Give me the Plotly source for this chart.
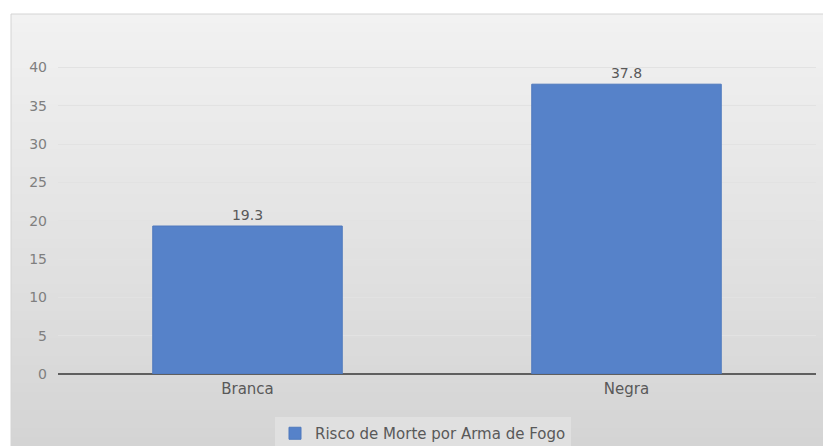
import plotly.graph_objects as go

categories = ["Branca", "Negra"]
values = [19.3, 37.8]
series_name = "Risco de Morte por Arma de Fogo"
tick_vals = [0, 5, 10, 15, 20, 25, 30, 35, 40]

W, H = 823, 446
ML, MR, MT, MB = 58, 7, 29, 72
PW, PH = W - ML - MR, H - MT - MB

def px_x(x):
    return (x - ML) / PW

def px_y(y):
    return (H - MB - y) / PH

fig = go.Figure()
fig.add_trace(go.Bar(
    x=categories, y=values, name=series_name,
    marker=dict(color="#5682c9", line=dict(color="#4f79bd", width=1)),
    text=[f"{v}" for v in values], textposition="outside",
    textfont=dict(color="#595959", size=14, family="DejaVu Sans"),
    cliponaxis=False,
))

# gradient background via bands
shapes = []
n = 48
top, bot = 14, H
c0, c1 = (242, 242, 242), (212, 212, 212)
for i in range(n):
    y0 = top + (bot - top) * i / n
    y1 = top + (bot - top) * (i + 1) / n
    t = (i + 0.5) / n
    c = tuple(int(round(c0[k] + (c1[k] - c0[k]) * t)) for k in range(3))
    shapes.append(dict(type="rect", xref="paper", yref="paper",
                       x0=px_x(11), x1=px_x(W), y0=px_y(y1 + 0.5), y1=px_y(y0),
                       fillcolor=f"rgb{c}", line=dict(width=0), layer="below"))
shapes.append(dict(type="rect", xref="paper", yref="paper",
                   x0=px_x(11), x1=px_x(W + 2), y0=px_y(H + 2), y1=px_y(14),
                   fillcolor="rgba(0,0,0,0)", line=dict(color="#d4d4d4", width=1), layer="below"))

fig.update_layout(
    width=W, height=H,
    margin=dict(l=ML, r=MR, t=MT, b=MB, autoexpand=False),
    paper_bgcolor="white", plot_bgcolor="rgba(0,0,0,0)",
    shapes=shapes,
    bargap=0.5,
    showlegend=True,
    legend=dict(orientation="h", x=px_x(275), xanchor="left", y=px_y(417), yanchor="top",
                bgcolor="#e0e0e0", font=dict(color="#595959", size=15, family="DejaVu Sans"),
                itemwidth=30),
    font=dict(family="DejaVu Sans", color="#7f7f7f"),
    xaxis=dict(showgrid=False, showline=False, ticks="",
               tickfont=dict(color="#595959", size=15), ticklabelstandoff=4),
    yaxis=dict(range=[0, 45], tickvals=tick_vals, showgrid=True, gridcolor="#e2e2e2",
               gridwidth=1, zeroline=True, zerolinecolor="#5f5f5f", zerolinewidth=2,
               tickfont=dict(color="#7f7f7f", size=14), ticks="", ticklabelstandoff=10,
               showline=False),
)

fig.write_html("out.html", config={"displayModeBar": False},
               post_script="document.body.style.margin='0';document.body.style.overflow='hidden';")
